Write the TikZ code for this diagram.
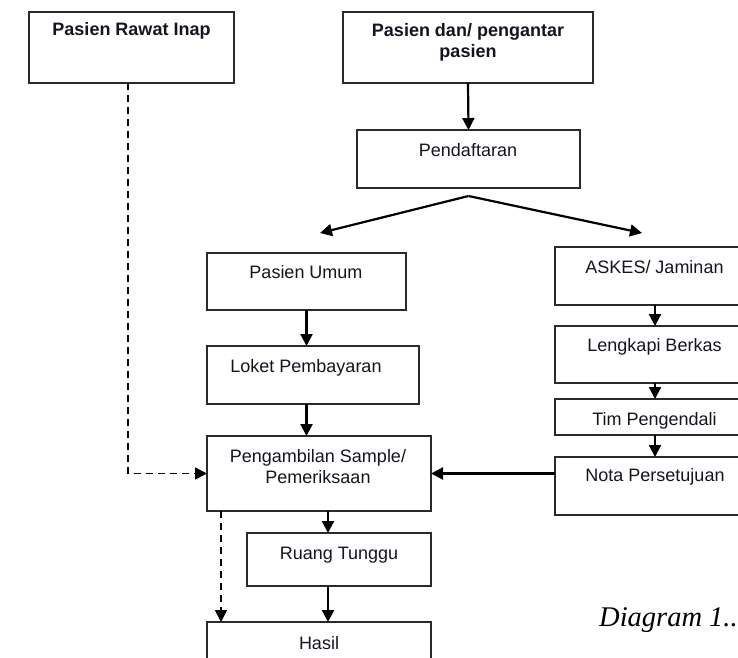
\documentclass[tikz,border=0pt]{standalone}
\usepackage{fontspec}
\setmainfont{Liberation Sans}
\newfontfamily\captionfont{Liberation Serif}
\usetikzlibrary{arrows.meta}
\definecolor{inkc}{HTML}{14141F}
\definecolor{framec}{HTML}{2A2A2A}
\tikzset{
  box/.style={draw=framec, line width=1.4pt, rectangle, inner sep=0pt, outer sep=0pt},
  lbl/.style={anchor=base, inner sep=0pt, text=inkc, font=\fontsize{18}{21}\selectfont},
  blbl/.style={lbl, font=\fontsize{18}{21}\selectfont\bfseries},
  flow/.style={line width=2.2pt, -{Triangle[length=12pt,width=12pt]}},
  dflow/.style={line width=1.7pt, dash pattern=on 7pt off 5pt, -{Triangle[length=12pt,width=12pt]}},
}
\begin{document}
\begin{tikzpicture}[x=1pt, y=-1pt]
\useasboundingbox (0,0) rectangle (738,657);
\clip (0,0) rectangle (738,657);

% boxes
\node[box, minimum width=205pt, minimum height=71pt] (ri) at (131.5,47.5) {};
\node[box, minimum width=250pt, minimum height=71pt] (pp) at (468,47.5) {};
\node[box, minimum width=223pt, minimum height=58pt] (pd) at (468.5,159) {};
\node[box, minimum width=199pt, minimum height=57pt] (pu) at (306.5,281.5) {};
\node[box, minimum width=212pt, minimum height=58pt] (lp) at (313,375) {};
\node[box, minimum width=224pt, minimum height=75pt] (ps) at (319,473.5) {};
\node[box, minimum width=184pt, minimum height=53pt] (rt) at (339,559.5) {};
\node[box, minimum width=224pt, minimum height=68pt] (ha) at (319,656) {};
\node[box, minimum width=215pt, minimum height=58pt] (ak) at (662.5,276) {};
\node[box, minimum width=215pt, minimum height=57pt] (lb) at (662.5,354.5) {};
\node[box, minimum width=215pt, minimum height=36pt] (tp) at (662.5,417) {};
\node[box, minimum width=215pt, minimum height=58pt] (np) at (662.5,486) {};

% box texts
\node[blbl] (ri-t) at (131.5,35) {Pasien Rawat Inap};
\node[blbl] (pp-t) at (468,36) {\begin{tabular}[t]{@{}c@{}}Pasien dan/ pengantar\\pasien\end{tabular}};
\node[lbl] (pd-t) at (468,156) {Pendaftaran};
\node[lbl] (pu-t) at (306,278) {Pasien Umum};
\node[lbl] (lp-t) at (306,372) {Loket Pembayaran};
\node[lbl] (ps-t) at (318,462) {\begin{tabular}[t]{@{}c@{}}Pengambilan Sample/\\Pemeriksaan\end{tabular}};
\node[lbl] (rt-t) at (339,559) {Ruang Tunggu};
\node[lbl] (ha-t) at (319,649) {Hasil};
\node[lbl] (ak-t) at (654.5,273) {ASKES/ Jaminan};
\node[lbl] (lb-t) at (654.5,351) {Lengkapi Berkas};
\node[lbl] (tp-t) at (654.5,425) {Tim Pengendali};
\node[lbl] (np-t) at (655,481) {Nota Persetujuan};

% caption
\node[anchor=base west, inner sep=0pt, text=black, font=\captionfont\itshape\fontsize{28.5}{32}\selectfont] (cap) at (599,626) {Diagram 1..};

% split point below registration and the two branch tips
\coordinate (apex) at ([yshift=-8pt]pd.south);
\coordinate (lefttip) at (320,233);
\coordinate (righttip) at (642,233);

% connectors
\draw[flow] (pp.south) -- (pd.north);
\draw[flow] (apex) -- (lefttip);
\draw[flow] (apex) -- (righttip);
\draw[flow] (pu.south) -- (pu.south |- lp.north);
\draw[flow] (pu.south |- lp.south) -- (pu.south |- ps.north);
\draw[flow] ([xshift=9pt]ps.south) -- ([xshift=9pt]ps.south |- rt.north);
\draw[flow] ([xshift=9pt]ps.south |- rt.south) -- ([xshift=9pt]ps.south |- ha.north);
\draw[flow] ([xshift=100pt]ak.south west) -- ([xshift=100pt]ak.south west |- lb.north);
\draw[flow] ([xshift=100pt]lb.south west) -- ([xshift=100pt]lb.south west |- tp.north);
\draw[flow] ([xshift=100pt]tp.south west) -- ([xshift=100pt]tp.south west |- np.north);
\draw[flow] (np.west |- ps.east) -- (ps.east);
\draw[dflow] ([xshift=-3.5pt]ri.south) |- (ps.west);
\draw[dflow] ([xshift=14pt]ps.south west) -- ([xshift=14pt]ps.south west |- ha.north);
\end{tikzpicture}
\end{document}
